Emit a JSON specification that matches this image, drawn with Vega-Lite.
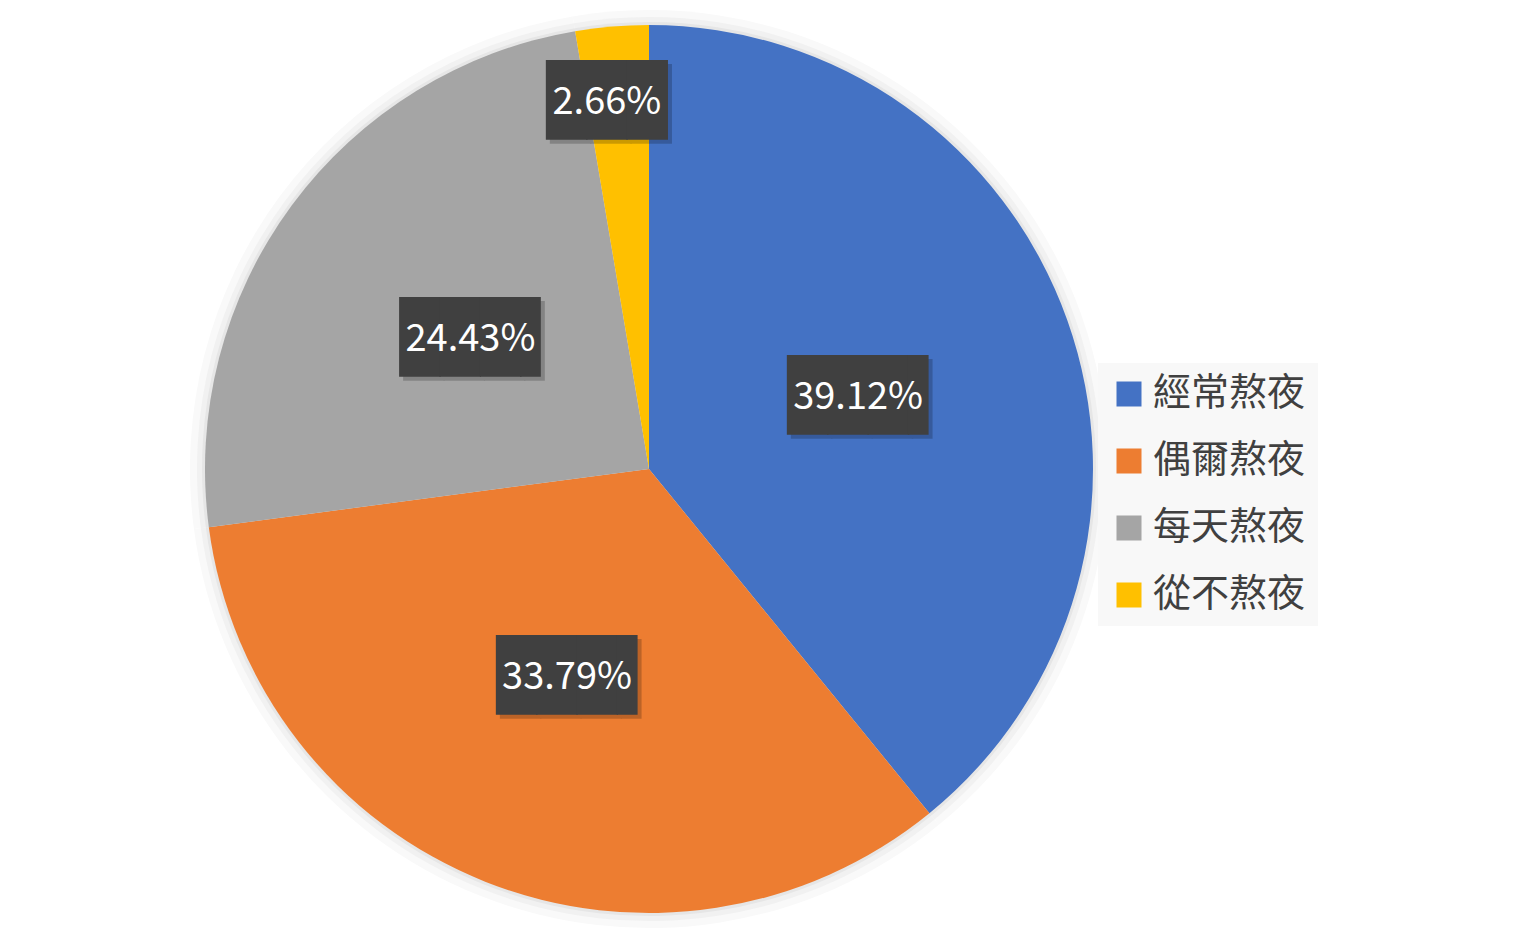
{
  "$schema": "https://vega.github.io/schema/vega-lite/v6.json",
  "width": 1298,
  "height": 936,
  "autosize": "none",
  "padding": {"left": 0, "top": 1, "right": 224, "bottom": 0},
  "background": "white",
  "config": {
    "view": {"stroke": null},
    "font": "Noto Sans CJK TC"
  },
  "data": {
    "values": [
      {"cat": "經常熬夜", "share": 0.3912, "rank": 1},
      {"cat": "偶爾熬夜", "share": 0.3379, "rank": 2},
      {"cat": "每天熬夜", "share": 0.2443, "rank": 3},
      {"cat": "從不熬夜", "share": 0.0266, "rank": 4}
    ]
  },
  "encoding": {
    "theta": {"field": "share", "type": "quantitative", "stack": true},
    "order": {"field": "rank", "type": "quantitative"}
  },
  "layer": [
    {"mark": {"type": "arc", "outerRadius": 459, "color": "#f9f9f9"}},
    {"mark": {"type": "arc", "outerRadius": 452, "color": "#f1f1f1"}},
    {"mark": {"type": "arc", "outerRadius": 447, "color": "#e6e6e6"}},
    {
      "mark": {"type": "arc", "outerRadius": 444},
      "encoding": {
        "color": {
          "field": "cat",
          "type": "nominal",
          "scale": {
            "domain": ["經常熬夜", "偶爾熬夜", "每天熬夜", "從不熬夜"],
            "range": ["#4472C4", "#ED7D31", "#A5A5A5", "#FFC000"]
          },
          "legend": {
            "title": null,
            "orient": "none",
            "legendX": 1098,
            "legendY": 362,
            "padding": 12,
            "fillColor": "#f8f8f8",
            "symbolType": "square",
            "symbolSize": 625,
            "symbolStrokeWidth": 0,
            "labelFont": "Noto Sans CJK TC",
            "labelFontSize": 38,
            "labelColor": "#404040",
            "labelOffset": 5,
            "rowPadding": 29,
            "labelLimit": 300
          }
        }
      }
    },
    {
      "mark": {"type": "text", "radius": 222, "dx": 14, "dy": 7, "font": "DejaVu Sans Mono", "fontSize": 67, "baseline": "middle", "align": "center", "color": "#000000"},
      "encoding": {
        "text": {"value": "███▌"},
        "opacity": {"condition": {"test": "datum.cat !== '從不熬夜'", "value": 0.2}, "value": 0}
      }
    },
    {
      "mark": {"type": "text", "radius": 222, "dx": 10, "dy": 3, "font": "DejaVu Sans Mono", "fontSize": 67, "baseline": "middle", "align": "center", "color": "#404040"},
      "encoding": {
        "text": {"value": "███▌"},
        "opacity": {"condition": {"test": "datum.cat !== '從不熬夜'", "value": 1}, "value": 0}
      }
    },
    {
      "mark": {"type": "text", "radius": 222, "dy": 3, "font": "Noto Sans CJK TC", "fontSize": 38, "baseline": "middle", "align": "center", "color": "white"},
      "encoding": {
        "text": {"field": "share", "type": "quantitative", "format": ".2%"},
        "opacity": {"condition": {"test": "datum.cat !== '從不熬夜'", "value": 1}, "value": 0}
      }
    },
    {
      "mark": {"type": "text", "radius": 372, "dx": -7, "dy": 9, "font": "DejaVu Sans Mono", "fontSize": 67, "baseline": "middle", "align": "center", "color": "#000000"},
      "encoding": {
        "text": {"value": "███"},
        "opacity": {"condition": {"test": "datum.cat === '從不熬夜'", "value": 0.2}, "value": 0}
      }
    },
    {
      "mark": {"type": "text", "radius": 372, "dx": -11, "dy": 5, "font": "DejaVu Sans Mono", "fontSize": 67, "baseline": "middle", "align": "center", "color": "#404040"},
      "encoding": {
        "text": {"value": "███"},
        "opacity": {"condition": {"test": "datum.cat === '從不熬夜'", "value": 1}, "value": 0}
      }
    },
    {
      "mark": {"type": "text", "radius": 372, "dx": -11, "dy": 5, "font": "Noto Sans CJK TC", "fontSize": 38, "baseline": "middle", "align": "center", "color": "white"},
      "encoding": {
        "text": {"field": "share", "type": "quantitative", "format": ".2%"},
        "opacity": {"condition": {"test": "datum.cat === '從不熬夜'", "value": 1}, "value": 0}
      }
    }
  ]
}
